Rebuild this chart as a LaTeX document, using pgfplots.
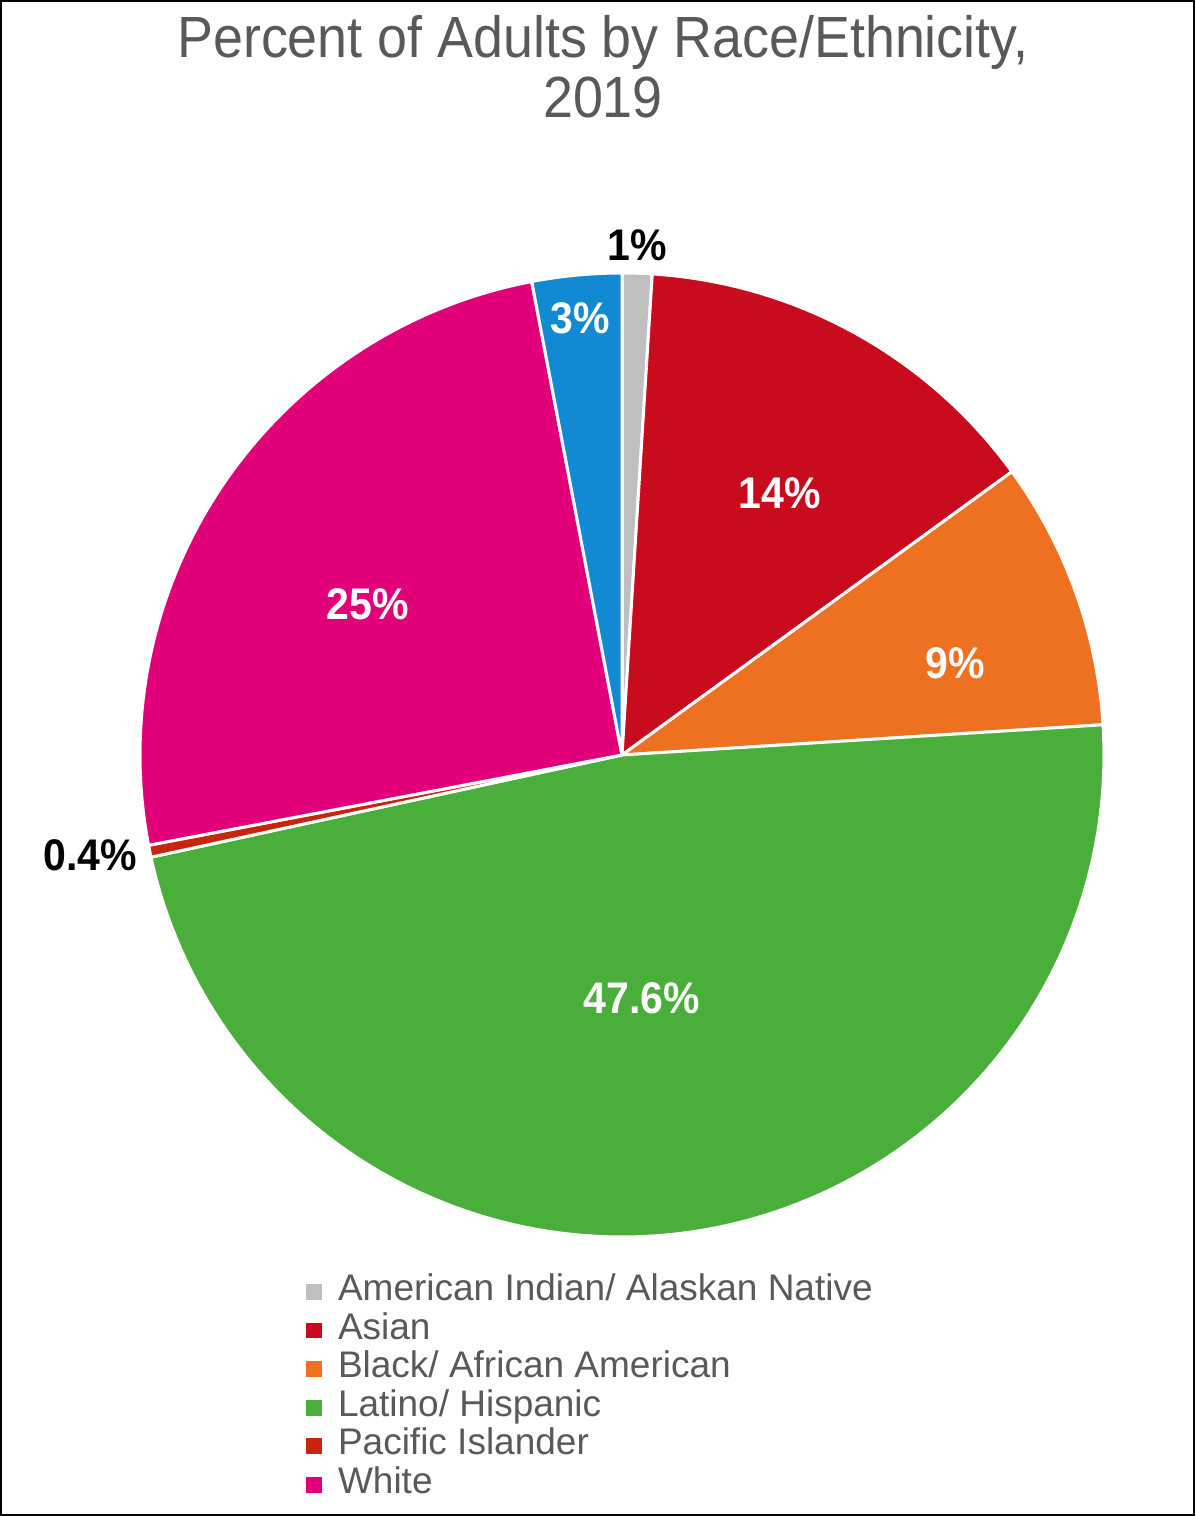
\documentclass[border=0pt]{standalone}
\usepackage{pgfplots}
\pgfplotsset{compat=1.18}
\usepackage{pgfplotstable}
\usepackage{fontspec}
\setmainfont{Liberation Sans}

\definecolor{titlegray}{HTML}{595959}
\definecolor{pgray}{HTML}{BFBFBF}
\definecolor{pred}{HTML}{C90B1E}
\definecolor{porange}{HTML}{EE7122}
\definecolor{pgreen}{HTML}{49AE3A}
\definecolor{pbrick}{HTML}{C8250C}
\definecolor{pmagenta}{HTML}{E2007A}
\definecolor{pblue}{HTML}{128AD3}

% share of adults, clockwise from 12 o'clock
\pgfplotstableread{
group value col
AIAN 1 pgray
Asian 14 pred
Black 9 porange
Latino 47.6 pgreen
Pacific 0.4 pbrick
White 25 pmagenta
Other 3 pblue
}\pietable

\newcommand\tall[1]{\scalebox{1}[1.08]{#1}}

\begin{document}
\begin{tikzpicture}
\begin{axis}[
    scale only axis,
    width=597.5pt, height=758pt,
    xmin=0, xmax=1195, ymin=0, ymax=1516,
    hide axis, clip=false,
    legend image code/.code={\fill[#1] (0pt,-3.7pt) rectangle (7.4pt,3.7pt);},
    legend cell align=left,
    legend style={
        at={(axis cs:306,244)}, anchor=north west,
        draw=none, fill=none, inner sep=0pt,
        font=\fontsize{18.5}{19.3}\selectfont\color{titlegray},
        column sep=8pt, row sep=0pt,
        nodes={inner sep=0pt, text height=14pt, text depth=5.3pt},
    },
]
\pgfplotstablegetrowsof{\pietable}
\pgfmathtruncatemacro\lastrow{\pgfplotsretval-1}
\xdef\cum{0}
\pgfplotsforeachungrouped \i in {0,...,\lastrow}{%
  \pgfplotstablegetelem{\i}{value}\of\pietable \let\sval\pgfplotsretval
  \pgfplotstablegetelem{\i}{col}\of\pietable \let\scol\pgfplotsretval
  \pgfmathsetmacro\sa{90-3.6*\cum}
  \pgfmathsetmacro\sb{90-3.6*(\cum+\sval)}
  \edef\doslice{\noexpand\addplot[fill=\scol, draw=white, line width=1.5pt,
      line join=round, domain=\sb:\sa, samples=120, variable=\noexpand\t, forget plot]
      ({622+482*cos(\noexpand\t)},{761+482*sin(\noexpand\t)})
      -- (axis cs:622,761) -- cycle;}
  \doslice
  \pgfmathsetmacro\newcum{\cum+\sval}
  \xdef\cum{\newcum}
}

\addlegendimage{pgray}\addlegendentry{American Indian/ Alaskan Native}
\addlegendimage{pred}\addlegendentry{Asian}
\addlegendimage{porange}\addlegendentry{Black/ African American}
\addlegendimage{pgreen}\addlegendentry{Latino/ Hispanic}
\addlegendimage{pbrick}\addlegendentry{Pacific Islander}
\addlegendimage{pmagenta}\addlegendentry{White}

% title
\node[anchor=base, text=titlegray, font=\fontsize{26.9}{30}\selectfont]
    at (axis cs:603,1458) {\tall{Percent of Adults by Race/Ethnicity,}};
\node[anchor=base, text=titlegray, font=\fontsize{26.9}{30}\selectfont]
    at (axis cs:603,1398) {\tall{2019}};

% slice labels
\begin{scope}[every node/.style={font=\fontsize{20.5}{24}\bfseries\selectfont, inner sep=0pt}]
\node[text=black] at (axis cs:637,1271) {\tall{1\%}};
\node[text=white] at (axis cs:580,1198) {\tall{3\%}};
\node[text=white] at (axis cs:780,1023) {\tall{14\%}};
\node[text=white] at (axis cs:955,853) {\tall{9\%}};
\node[text=white] at (axis cs:642,518) {\tall{47.6\%}};
\node[text=white] at (axis cs:368,912) {\tall{25\%}};
\node[text=black] at (axis cs:90,661) {\tall{0.4\%}};
\end{scope}

% outer frame
\draw[black, line width=1pt] (axis cs:1,1) rectangle (axis cs:1194,1515);
\end{axis}
\end{tikzpicture}
\end{document}
